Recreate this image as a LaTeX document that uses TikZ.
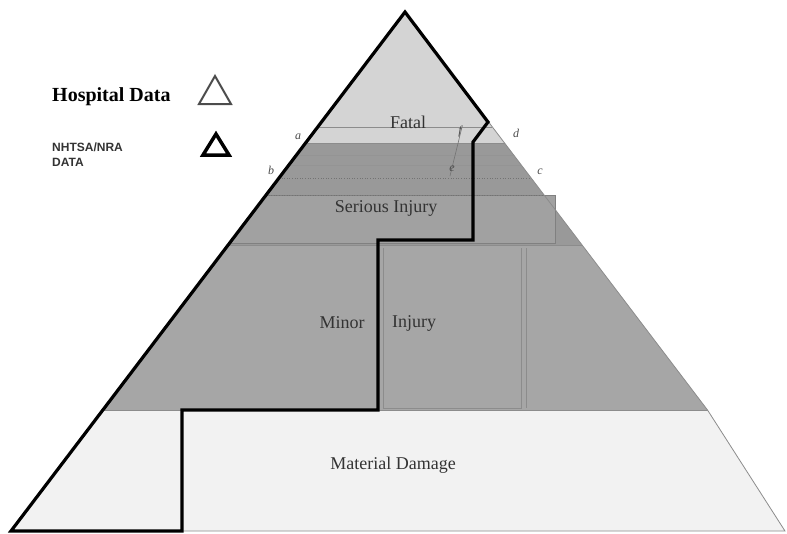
\documentclass[tikz,border=0pt]{standalone}
\usepackage{fontspec}
\setmainfont{Liberation Serif}
\setsansfont{Liberation Sans}
\begin{document}
\begin{tikzpicture}[x=1pt,y=-1pt,
  layerlbl/.style={font=\fontsize{18}{18}\selectfont, text=black!80, inner sep=0pt},
  ptlbl/.style={font=\itshape\fontsize{12}{12}\selectfont, text=black!70, inner sep=0pt},
  thinline/.style={draw=black!45, line width=0.6pt},
  dotline/.style={draw=black!55, line width=0.6pt, dotted}]
\useasboundingbox (0,0) rectangle (787,533);
% layer coordinates
\coordinate (apex) at (405,12);
\coordinate (L143) at (305.6,143); \coordinate (R143) at (504.6,143);
\coordinate (L245) at (228.2,245); \coordinate (R245) at (582.1,245);
\coordinate (L410) at (103,410);   \coordinate (R410) at (707.5,410);
\coordinate (L531) at (11,531);    \coordinate (R531) at (785,531);
% fills
\fill[black!17] (apex) -- (R143) -- (L143) -- cycle;
\fill[black!40] (L143) -- (R143) -- (R245) -- (L245) -- cycle;
\fill[black!35] (L245) -- (R245) -- (R410) -- (L410) -- cycle;
\fill[black!5]  (L410) -- (R410) -- (R531) -- (L531) -- cycle;
% serious injury box
\fill[black!37] (266,195) -- (555,195) -- (555,243) -- (229.7,243) -- cycle;
\draw[draw=black!50, line width=0.8pt] (266,195) -- (555,195) -- (555,243) -- (229.7,243);
% layer boundaries
\draw[thinline] (317.7,127) -- (492.4,127);
\draw[thinline] (L143) -- (R143);
\draw[draw=black!42, line width=0.5pt] (298,155) -- (513,155);
\draw[draw=black!42, line width=0.5pt] (290,165) -- (521,165);
\draw[thinline] (L245) -- (R245);
\draw[thinline] (L410) -- (R410);
\draw[dotline] (279,178) -- (531,178);
\draw[dotline] (266,195) -- (544,195);
% minor injury box
\draw[draw=black!45, line width=0.8pt] (383,248) -- (383,408) -- (521,408) -- (521,248);
\draw[thinline] (526,248) -- (526,408);
% outer pyramid edges
\draw[draw=black!45, line width=0.8pt] (apex) -- (R410) -- (R531) -- (L531);
\draw[draw=black!45, line width=0.8pt] (182,531) -- (182,412);
% small slanted marker
\draw[draw=black!55, line width=0.6pt] (462,127) -- (450,176);
% bold outline (hospital data)
\draw[line width=3.2pt, line join=miter] (L531) -- (apex) -- (488,122) -- (473,142) -- (473,240) -- (378,240) -- (378,410) -- (182,410) -- (182,531) -- cycle;
% labels
\node[layerlbl] (fatal) at (408,122) {Fatal};
\node[layerlbl] (serious) at (386,208) {Serious Injury};
\node[layerlbl] (minor) at (342,323) {Minor};
\node[layerlbl] (injury) at (414,323) {Injury};
\node[layerlbl] (material) at (393,465) {Material Damage};
\node[ptlbl] (pa) at (298,137) {a};
\node[ptlbl] (pb) at (271,170) {b};
\node[ptlbl] (pd) at (516,133) {d};
\node[ptlbl] (pc) at (540,172) {c};
\node[ptlbl] (pf) at (460,132) {f};
\node[ptlbl] (pe) at (452,169) {e};
% legend
\node[anchor=west, inner sep=0pt, font=\bfseries\fontsize{20}{20}\selectfont] (hosp) at (52,97) {Hospital Data};
\node[anchor=west, inner sep=0pt, align=left, font=\sffamily\bfseries\fontsize{12}{15}\selectfont, text=black!80] (nhtsa) at (52,155) {NHTSA/NRA\\DATA};
\draw[line width=2pt, draw=black!70, line join=miter] (199,104) -- (231,104) -- (215,76) -- cycle;
\draw[line width=3.5pt, line join=miter] (203,155) -- (229,155) -- (216,134) -- cycle;
\end{tikzpicture}
\end{document}
